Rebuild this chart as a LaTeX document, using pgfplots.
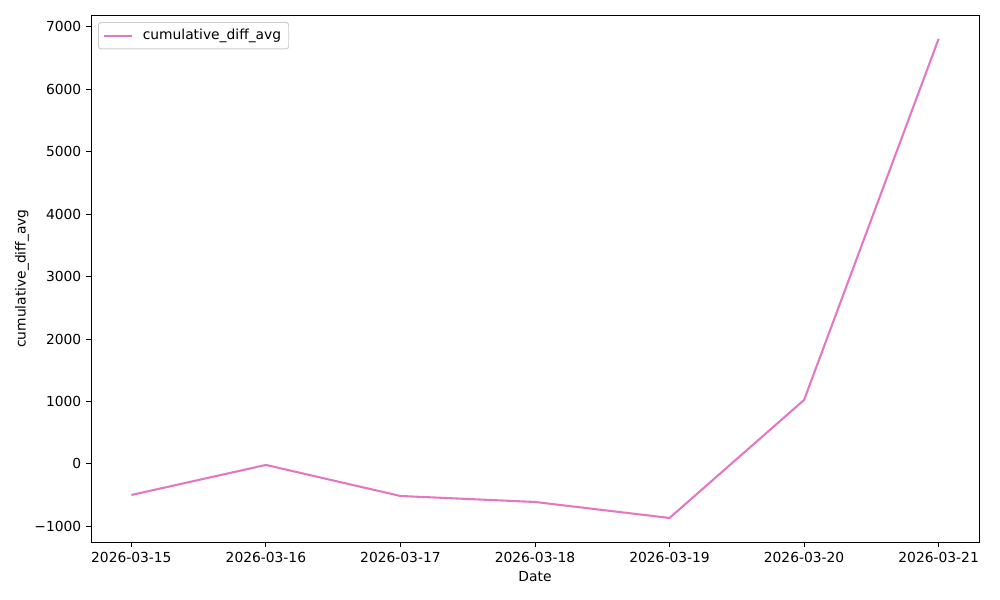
\documentclass[border=0pt]{standalone}
\usepackage{fontspec}
\setmainfont{DejaVu Sans}
\usepackage{pgfplots}
\pgfplotsset{compat=1.18}
\definecolor{tabpink}{HTML}{E377C2}
\definecolor{legendgray}{gray}{0.8}
\begin{document}
\begin{tikzpicture}
\path[use as bounding box] (-0.91in,-0.58in) rectangle (9.09in,5.42in);
\begin{axis}[
    at={(0,0)}, anchor=south west,
    scale only axis,
    width=8.88in, height=5.27in,
    xmin=-0.3, xmax=6.3,
    ymin=-1250, ymax=7190,
    xtick={0,1,2,3,4,5,6},
    xticklabels={2026-03-15,2026-03-16,2026-03-17,2026-03-18,2026-03-19,2026-03-20,2026-03-21},
    ytick={-1000,0,1000,2000,3000,4000,5000,6000,7000},
    yticklabels={−1000,0,1000,2000,3000,4000,5000,6000,7000},
    tick align=outside, tick pos=left,
    major tick length=3.5pt,
    every tick/.style={black, line width=0.7pt},
    axis line style={line width=0.7pt},
    font=\fontsize{10}{12}\selectfont,
    xlabel={Date},
    ylabel={cumulative\_diff\_avg},
    xlabel style={at={(axis description cs:0.5,-0.0664)}, anchor=center},
    ylabel style={at={(axis description cs:-0.0777,0.5)}, anchor=center},
    legend cell align=left,
    legend style={at={(axis description cs:0.0079,0.9867)}, anchor=north west,
        draw=legendgray, line width=0.7pt, rounded corners=2pt,
        fill=white, fill opacity=0.8, text opacity=1,
        font=\fontsize{10}{12}\selectfont, inner xsep=3.5pt, inner ysep=3pt},
    legend image code/.code={\draw[#1] (0pt,0pt) -- (20pt,0pt); \path (25pt,0pt);},
]
\addplot[tabpink, line width=1.5pt, mark=none] coordinates {
    (0,-497) (1,-16) (2,-513) (3,-609) (4,-865) (5,1025) (6,6808)
};
\addlegendentry{cumulative\_diff\_avg}
\end{axis}
\end{tikzpicture}
\end{document}
